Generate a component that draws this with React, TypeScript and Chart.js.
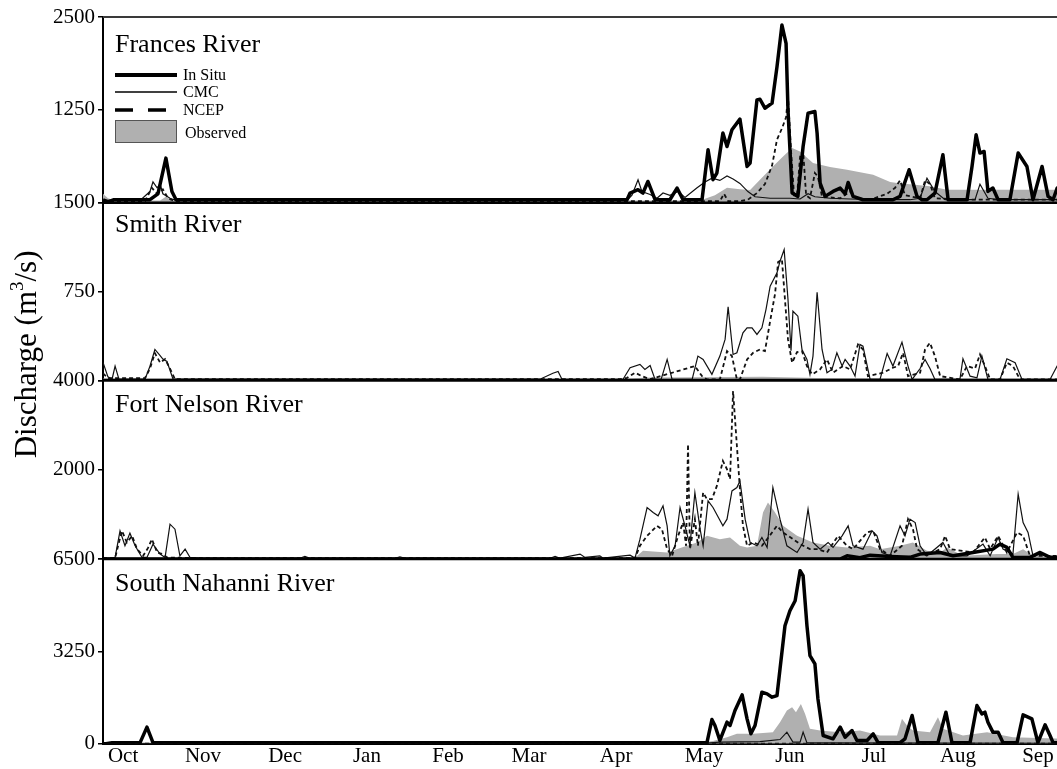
import React, { useEffect, useRef } from "react";
import { Chart, registerables } from "chart.js";

Chart.register(...registerables);

type Pt = [number, number];

// x = day of the water year (0 = 1 Oct)
const monthLabels = ["Oct", "Nov", "Dec", "Jan", "Feb", "Mar", "Apr", "May", "Jun", "Jul", "Aug", "Sep"];
const monthLabelDays = [7.3, 36.4, 66.3, 96.1, 125.6, 155.1, 186.8, 218.8, 250.1, 280.7, 311.3, 340.4];

const panelNames = ["Frances River", "Smith River", "Fort Nelson River", "South Nahanni River"];
const panelMax = [2500, 1500, 4000, 6500];
const seriesNames = ["In Situ", "CMC", "NCEP", "Observed"];

// ---------- Frances River ----------
const francesInSitu: Pt[] = [[0,40],[1.8,10],[4.0,40],[17.1,40],[20.0,120],[22.9,600],[25.1,150],[26.6,40],[190.8,40],[191.9,130],[194.8,175],[196.6,130],[198.4,286],[201.0,40],[206.4,40],[209.0,197],[211.2,40],[218.1,40],[220.3,712],[222.1,309],[223.5,399],[225.7,937],[227.2,757],[229.0,981],[231.9,1125],[234.5,488],[235.6,533],[238.1,1384],[239.2,1393],[241.0,1272],[243.6,1340],[245.4,1832],[247.2,2392],[248.7,2146],[249.4,1250],[250.9,130],[253.0,85],[254.9,757],[256.7,1205],[259.2,1227],[260.0,937],[261.1,264],[262.9,85],[265.8,152],[268.4,197],[270.2,120],[271.3,273],[273.1,85],[276.7,40],[287.6,40],[290.2,85],[293.5,444],[296.4,85],[298.2,40],[300.0,40],[302.9,130],[305.8,645],[307.7,40],[314.6,40],[316.4,488],[317.9,914],[319.3,668],[320.8,690],[322.2,152],[324.0,197],[325.9,40],[330.2,40],[333.2,668],[336.4,488],[338.6,40],[341.9,488],[344.1,85],[345.9,40],[347.4,197],[350,250]];
const francesCMC: Pt[] = [[0,30],[13.5,30],[17.1,150],[18.2,280],[19.7,200],[20.8,250],[21.8,120],[24.4,60],[26.6,30],[173.7,30],[190.8,30],[192.6,100],[194.8,309],[196.2,150],[199.2,110],[201.7,60],[203.9,130],[206.4,100],[209.4,150],[211.9,70],[216.3,200],[219.2,280],[221.7,330],[224.6,300],[227.2,360],[229.4,320],[231.9,260],[234.8,150],[237.4,80],[242.9,60],[250.1,60],[253.8,50],[256.7,120],[259.2,80],[264.7,60],[272.0,50],[282.9,40],[293.8,40],[297.5,60],[300.0,330],[302.9,150],[306.6,40],[317.5,40],[319.3,250],[322.2,60],[326.6,40],[350,40]];
const francesNCEP: Pt[] = [[0,20],[15.3,20],[17.8,200],[19.7,120],[21.8,180],[23.7,60],[26.2,20],[188.2,20],[224.6,20],[226.1,120],[227.6,20],[231.9,20],[234.8,40],[238.1,130],[241.0,250],[243.6,500],[245.4,850],[247.2,1000],[248.7,1150],[249.4,1430],[250.5,700],[251.6,100],[252.7,100],[253.8,620],[254.9,700],[256.0,100],[257.4,60],[259.2,400],[260.3,350],[261.8,80],[268.4,60],[272.0,150],[274.2,60],[279.3,40],[285.5,120],[288.4,200],[290.2,300],[292.0,100],[297.5,60],[299.3,300],[301.1,250],[302.9,60],[312.0,40],[350,40]];
const francesObserved: Pt[] = [[0,120],[1.8,60],[4.4,30],[20.8,30],[22.9,80],[25.1,30],[217.4,30],[222.8,100],[227.2,200],[231.9,180],[235.6,170],[239.2,309],[243.9,488],[247.6,623],[250.9,735],[253.8,690],[258.5,533],[264.7,480],[270.9,444],[280.4,377],[286.6,280],[289.1,264],[301.1,220],[307.3,175],[350,175]];

// ---------- Smith River ----------
const smithInSitu: Pt[] = [[0,0],[350,0]];
const smithCMC: Pt[] = [[0,152],[1.8,30],[3.3,10],[4.4,121],[5.8,10],[15.3,10],[17.1,120],[18.9,261],[20.8,210],[21.8,180],[23.3,160],[25.5,10],[159.1,10],[163.8,60],[165.7,76],[167.1,10],[189.3,8],[191.9,107],[195.5,135],[197.3,93],[199.2,126],[201.0,8],[203.2,8],[205.4,177],[207.2,8],[214.5,8],[216.6,205],[218.5,177],[221.7,51],[224.6,205],[226.5,346],[227.6,621],[229.4,219],[230.8,233],[233.0,402],[234.5,444],[236.3,444],[238.1,388],[239.9,444],[241.4,600],[242.9,795],[245.4,908],[246.5,1006],[248.0,1104],[249.4,683],[250.5,250],[251.2,584],[253.0,542],[254.5,261],[256.3,177],[257.4,51],[258.5,205],[260.0,744],[261.8,261],[263.6,65],[265.4,93],[267.2,233],[269.1,121],[270.2,177],[272.0,121],[273.8,36],[275.6,303],[276.7,289],[279.3,8],[282.9,8],[285.5,228],[287.6,121],[290.9,323],[293.1,121],[294.6,8],[297.5,100],[299.3,177],[301.1,100],[302.9,8],[312.0,8],[313.1,183],[315.7,36],[318.2,22],[320.0,205],[322.2,8],[326.6,8],[329.1,183],[332.1,149],[334.6,8],[344.8,8],[347.4,121],[350,150]];
const smithNCEP: Pt[] = [[0,60],[1.8,20],[15.3,20],[17.1,100],[18.9,230],[20.8,150],[22.6,180],[24.4,100],[26.2,10],[188.2,10],[190.8,22],[193.7,65],[196.2,36],[199.2,10],[215.5,121],[218.1,36],[219.9,8],[224.6,8],[227.2,247],[229.0,205],[230.8,8],[231.9,8],[234.5,177],[236.7,233],[239.2,261],[241.0,247],[242.9,500],[244.7,732],[245.8,1000],[247.2,1020],[248.3,683],[249.4,346],[250.9,149],[252.7,239],[254.5,247],[256.3,121],[258.2,51],[261.1,93],[263.6,177],[265.8,65],[269.4,121],[272.0,93],[274.9,303],[276.7,261],[278.5,36],[284.0,65],[287.6,107],[289.5,121],[291.3,233],[293.1,36],[297.5,65],[299.3,261],[301.1,317],[302.9,205],[304.8,36],[312.0,8],[314.6,121],[317.5,100],[319.3,219],[321.1,121],[323.0,8],[326.6,8],[329.1,149],[331.3,121],[333.9,8],[350,8]];
const smithObserved: Pt[] = [[0,15],[190,15],[200,25],[240,30],[260,20],[350,15]];

// ---------- Fort Nelson River ----------
const fortNelsonInSitu: Pt[] = [[0,0],[268.4,0],[270.9,74],[275.6,30],[279.3,89],[286.6,60],[293.8,40],[297.5,112],[304.8,149],[309.5,74],[316.8,149],[324.0,223],[326.6,335],[329.1,261],[331.3,37],[337.5,40],[341.2,149],[344.8,40],[350,37]];
const fortNelsonCMC: Pt[] = [[0,20],[3.3,20],[4.4,37],[6.2,633],[8.0,300],[9.8,581],[11.7,298],[14.2,37],[16.0,37],[18.2,335],[20.8,112],[22.6,37],[24.4,782],[26.2,670],[28.0,74],[29.9,223],[31.7,37],[35.3,20],[71.7,20],[73.5,60],[75.4,20],[106.3,20],[108.1,50],[110.0,20],[162.8,20],[164.6,60],[166.4,20],[173.7,112],[175.5,37],[180.9,74],[182.1,22],[191.9,89],[193.7,22],[195.5,447],[198.1,1155],[200.3,1043],[202.1,968],[203.9,1192],[205.4,745],[206.4,74],[208.3,298],[210.1,1155],[211.9,745],[213.7,298],[215.5,1490],[217.4,670],[218.5,298],[220.3,1304],[222.1,1155],[225.7,745],[227.2,894],[229.0,1527],[230.8,1602],[231.9,1750],[233.8,894],[235.6,373],[238.1,298],[239.9,484],[241.8,261],[243.9,1602],[246.5,894],[249.0,298],[252.7,149],[254.9,373],[256.7,1117],[258.5,373],[261.1,223],[264.0,373],[265.8,261],[269.1,521],[271.3,745],[273.1,298],[276.7,223],[280.0,633],[281.8,521],[283.6,149],[286.6,74],[290.2,745],[292.0,521],[293.8,894],[295.7,819],[297.5,298],[300.0,74],[305.8,373],[308.4,74],[314.6,74],[320.4,335],[323.0,74],[325.9,484],[327.7,223],[331.3,112],[333.2,1453],[335.0,819],[336.8,596],[338.6,74],[341.2,112],[347.4,37],[350,37]];
const fortNelsonNCEP: Pt[] = [[0,20],[4.4,20],[5.5,300],[6.9,633],[8.7,372],[10.6,521],[12.4,223],[14.6,74],[16.4,250],[17.8,447],[19.7,149],[21.8,112],[23.3,37],[35.3,20],[191.9,20],[193.7,22],[195.5,298],[198.1,521],[199.9,633],[201.7,745],[203.5,670],[205.4,223],[207.2,74],[209.4,521],[211.2,819],[212.3,298],[213.0,2570],[213.7,223],[215.5,894],[216.6,298],[218.5,1490],[219.9,1341],[221.7,1341],[223.5,1639],[225.7,2197],[227.2,2011],[228.3,1788],[229.4,3762],[230.8,2533],[231.9,1564],[233.0,745],[234.5,298],[236.7,373],[239.9,298],[241.8,447],[243.6,596],[245.4,745],[247.6,596],[251.2,447],[253.8,335],[257.4,223],[260.3,223],[263.6,149],[267.6,521],[270.9,298],[273.1,223],[278.2,596],[280.4,633],[282.9,223],[286.6,74],[290.9,298],[293.1,894],[294.9,670],[296.4,223],[300.0,74],[304.8,223],[306.6,521],[308.4,223],[316.8,149],[321.1,484],[323.0,223],[325.9,521],[329.1,149],[332.8,596],[335.0,521],[337.5,74],[350,74]];
const fortNelsonObserved: Pt[] = [[0,20],[191.9,20],[193.7,30],[196.6,186],[205.4,149],[212.6,298],[216.3,373],[219.9,521],[224.6,447],[228.3,484],[231.9,298],[234.5,261],[238.1,298],[240.3,1043],[242.1,1266],[244.7,1043],[247.6,745],[252.7,521],[258.5,373],[264.7,298],[270.9,261],[279.3,298],[282.9,223],[290.2,298],[294.9,373],[300.0,186],[304.8,149],[307.3,261],[313.1,74],[325.5,112],[331.3,112],[335.0,223],[338.6,74],[350,37]];

// ---------- South Nahanni River ----------
const nahanniInSitu: Pt[] = [[0,0],[1.1,0],[3.3,40],[13.5,40],[16.0,586],[18.2,40],[219.9,40],[221.7,855],[222.8,644],[224.6,117],[227.2,761],[228.3,644],[230.1,1171],[232.7,1721],[234.5,878],[235.9,351],[237.4,644],[239.9,1815],[241.8,1757],[243.6,1640],[245.4,1698],[246.5,2635],[248.3,4157],[250.1,4684],[252.0,5035],[253.8,6089],[254.9,5914],[256.3,4157],[257.4,3103],[259.2,2810],[260.3,1581],[262.2,293],[265.8,176],[268.4,586],[270.2,234],[272.7,468],[274.5,117],[278.2,117],[280.4,351],[282.2,40],[290.2,40],[292.0,176],[294.6,995],[296.7,40],[304.0,40],[306.9,1112],[309.1,40],[315.7,40],[318.2,1347],[320.0,1054],[321.1,1112],[322.2,761],[324.0,410],[325.9,410],[327.7,40],[332.8,40],[335.0,1019],[338.2,878],[340.4,40],[343.0,668],[344.8,293],[345.9,40],[350,40]];
const nahanniCMC: Pt[] = [[0,10],[217.4,10],[224.6,60],[239.2,80],[246.5,150],[249.0,410],[251.2,60],[253.8,60],[254.9,410],[256.3,30],[264.7,30],[350,20]];
const nahanniNCEP: Pt[] = [[0,5],[350,5]];
const nahanniObserved: Pt[] = [[0,50],[217.4,50],[222.1,100],[227.2,234],[230.8,351],[236.7,351],[243.9,410],[246.5,761],[249.0,1171],[250.9,1288],[252.3,1112],[254.1,1405],[255.6,1054],[257.4,527],[261.1,468],[268.4,410],[275.6,468],[282.9,293],[289.1,293],[290.9,878],[292.7,644],[294.9,468],[301.1,410],[304.0,937],[305.8,527],[313.1,293],[321.9,410],[331.3,234],[350,176]];

const panelSeries: Pt[][][] = [
  [francesInSitu, francesCMC, francesNCEP, francesObserved],
  [smithInSitu, smithCMC, smithNCEP, smithObserved],
  [fortNelsonInSitu, fortNelsonCMC, fortNelsonNCEP, fortNelsonObserved],
  [nahanniInSitu, nahanniCMC, nahanniNCEP, nahanniObserved],
];

const SERIF = "'Liberation Serif', 'Times New Roman', serif";
const GRAY = "#b0b0b0";
const titleOffsets = [35, 29, 32, 32];
const panelWeights = [186, 178, 179, 185];

const decorPlugin = {
  id: "decor",
  afterDraw(chart: any) {
    const ctx: CanvasRenderingContext2D = chart.ctx;
    const ca = chart.chartArea;
    ctx.save();
    panelNames.forEach((name, i) => {
      const s = chart.scales["y" + i];
      ctx.strokeStyle = i === 0 ? "#3a3a3a" : "#000";
      ctx.lineWidth = i === 0 ? 2 : 2.5;
      ctx.beginPath();
      ctx.moveTo(ca.left, s.top);
      ctx.lineTo(ca.right, s.top);
      ctx.stroke();
      ctx.fillStyle = "#000";
      ctx.font = `26px ${SERIF}`;
      ctx.textAlign = "left";
      ctx.textBaseline = "alphabetic";
      ctx.fillText(name, ca.left + 12, s.top + titleOffsets[i]);
    });

    // legend in the top panel
    const top = chart.scales["y0"].top;
    const lx0 = ca.left + 12;
    const lx1 = ca.left + 74;
    const tx = ca.left + 80;
    ctx.font = `16px ${SERIF}`;
    ctx.textBaseline = "middle";
    ctx.fillStyle = "#000";
    ctx.strokeStyle = "#000";
    ctx.setLineDash([]);
    ctx.lineWidth = 4;
    ctx.beginPath(); ctx.moveTo(lx0, top + 58); ctx.lineTo(lx1, top + 58); ctx.stroke();
    ctx.fillText(seriesNames[0], tx, top + 59);
    ctx.lineWidth = 1.5;
    ctx.beginPath(); ctx.moveTo(lx0, top + 75); ctx.lineTo(lx1, top + 75); ctx.stroke();
    ctx.fillText(seriesNames[1], tx, top + 76);
    ctx.lineWidth = 3.5;
    ctx.setLineDash([18, 15]);
    ctx.beginPath(); ctx.moveTo(lx0, top + 93); ctx.lineTo(lx1, top + 93); ctx.stroke();
    ctx.setLineDash([]);
    ctx.fillText(seriesNames[2], tx, top + 94);
    ctx.fillStyle = GRAY;
    ctx.fillRect(lx0, top + 103, 61, 22);
    ctx.strokeStyle = "#555";
    ctx.lineWidth = 1;
    ctx.strokeRect(lx0 + 0.5, top + 103.5, 61, 22);
    ctx.fillStyle = "#000";
    ctx.fillText(seriesNames[3], tx + 2, top + 117);

    // y-axis title
    const cy = (chart.scales["y0"].top + chart.scales["y3"].bottom) / 2 - 26;
    ctx.translate(28, cy);
    ctx.rotate(-Math.PI / 2);
    ctx.textBaseline = "middle";
    ctx.textAlign = "left";
    const big = `31px ${SERIF}`;
    const small = `19px ${SERIF}`;
    const p1 = "Discharge (m";
    const p2 = "3";
    const p3 = "/s)";
    ctx.font = big;
    const w1 = ctx.measureText(p1).width;
    const w3 = ctx.measureText(p3).width;
    ctx.font = small;
    const w2 = ctx.measureText(p2).width;
    let x = -(w1 + w2 + w3) / 2;
    ctx.font = big;
    ctx.fillText(p1, x, 0);
    x += w1;
    ctx.font = small;
    ctx.fillText(p2, x, -10);
    x += w2;
    ctx.font = big;
    ctx.fillText(p3, x, 0);
    ctx.restore();
  },
};

export default function App() {
  const ref = useRef<HTMLCanvasElement | null>(null);

  useEffect(() => {
    if (!ref.current) return;
    const datasets: any[] = [];
    panelSeries.forEach((series, i) => {
      const yId = "y" + i;
      const toXY = (arr: Pt[]) => arr.map(([x, y]) => ({ x, y }));
      datasets.push({
        label: panelNames[i] + " " + seriesNames[0],
        data: toXY(series[0]),
        yAxisID: yId,
        borderColor: "#000",
        borderWidth: 3.5,
        pointRadius: 0,
        fill: false,
        tension: 0,
        borderJoinStyle: "round",
      });
      datasets.push({
        label: panelNames[i] + " " + seriesNames[1],
        data: toXY(series[1]),
        yAxisID: yId,
        borderColor: "#111",
        borderWidth: 1.2,
        pointRadius: 0,
        fill: false,
        tension: 0,
      });
      datasets.push({
        label: panelNames[i] + " " + seriesNames[2],
        data: toXY(series[2]),
        yAxisID: yId,
        borderColor: "#111",
        borderWidth: 1.8,
        borderDash: [4, 3],
        pointRadius: 0,
        fill: false,
        tension: 0,
      });
      datasets.push({
        label: panelNames[i] + " " + seriesNames[3],
        data: toXY(series[3]),
        yAxisID: yId,
        borderColor: GRAY,
        borderWidth: 0,
        backgroundColor: GRAY,
        pointRadius: 0,
        fill: "origin",
        tension: 0,
      });
    });

    const scales: any = {
      x: {
        type: "linear",
        position: "bottom",
        min: 0,
        max: 363,
        grid: { display: false, drawTicks: false },
        border: { display: true, color: "#000", width: 2 },
        afterBuildTicks: (s: any) => {
          s.ticks = monthLabelDays.map((v) => ({ value: v }));
        },
        ticks: {
          autoSkip: false,
          maxRotation: 0,
          minRotation: 0,
          padding: 0,
          color: "#000",
          font: { family: SERIF, size: 21 },
          callback: (_v: any, idx: number) => monthLabels[idx],
        },
      },
    };
    // stacked axes are laid out bottom-up in declaration order
    [3, 2, 1, 0].forEach((i) => {
      const m = panelMax[i];
      scales["y" + i] = {
        type: "linear",
        position: "left",
        stack: "rivers",
        stackWeight: panelWeights[i],
        min: 0,
        max: m,
        afterBuildTicks: (s: any) => {
          s.ticks = [{ value: 0 }, { value: m / 2 }, { value: m }];
        },
        afterFit: (s: any) => {
          s.width = 103;
        },
        grid: {
          display: true,
          drawOnChartArea: false,
          drawTicks: true,
          tickLength: 5,
          color: "#000",
          lineWidth: 1.5,
        },
        border: { display: true, color: "#000", width: 2 },
        ticks: {
          padding: 3,
          color: "#000",
          font: { family: SERIF, size: 21 },
          callback: (v: any) => (v === 0 && i !== 3 ? "" : String(v)),
        },
      };
    });

    const chart = new Chart(ref.current, {
      type: "line",
      data: { datasets },
      options: {
        responsive: false,
        animation: false,
        devicePixelRatio: 1,
        layout: { padding: { top: 17, left: 0, right: 0, bottom: 0 } },
        plugins: { legend: { display: false }, tooltip: { enabled: false } },
        scales,
      },
      plugins: [decorPlugin],
    } as any);
    return () => chart.destroy();
  }, []);

  return (
    <div
      style={{
        position: "fixed",
        left: 0,
        top: 0,
        width: 1057,
        height: 769,
        overflow: "hidden",
        background: "#fff",
      }}
    >
      <canvas ref={ref} width={1100} height={769} style={{ display: "block" }} />
    </div>
  );
}
